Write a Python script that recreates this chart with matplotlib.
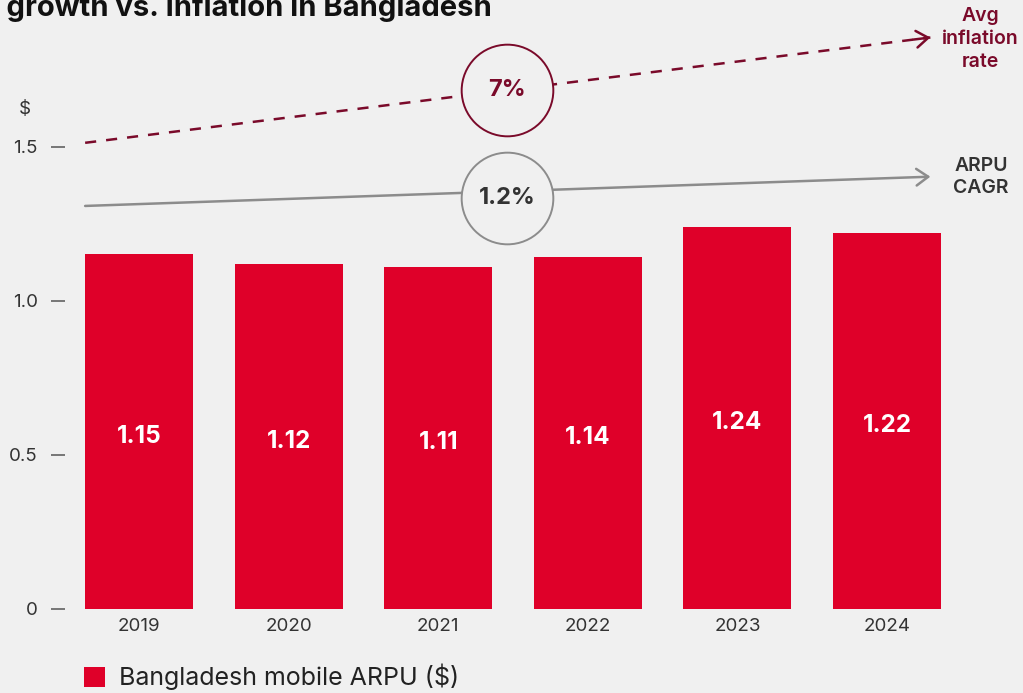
import matplotlib
matplotlib.use("Agg")
import matplotlib.pyplot as plt
from matplotlib.patches import Patch

# ---- data ----
years = ["2019", "2020", "2021", "2022", "2023", "2024"]
arpu = [1.15, 1.12, 1.11, 1.14, 1.24, 1.22]
yticks = [0, 0.5, 1.0, 1.5]
ytick_labels = ["0", "0.5", "1.0", "1.5"]

inflation_label = "7%"
cagr_label = "1.2%"
# trend guides: x in bar-index units, y in $
inflation_guide_x = [-0.36, 5.29]
inflation_guide_y = [1.512, 1.854]
cagr_guide_x = [-0.36, 5.29]
cagr_guide_y = [1.307, 1.402]
badge_x = 2.46
inflation_badge_y = 1.683
cagr_badge_y = 1.333

# ---- style ----
BG = "#f0f0f0"
RED = "#df0029"
WINE = "#7a0a2a"
GREY = "#8c8c8c"
DARK = "#333333"
FONT = ["Inter", "DejaVu Sans"]
HEAD = "->,head_length=0.85,head_width=0.6"

plt.rcParams["font.family"] = FONT
plt.rcParams["lines.scale_dashes"] = False

W, H = 1023, 693
fig = plt.figure(figsize=(W / 100, H / 100), dpi=100, facecolor=BG)

ax_left, ax_right, ax_bottom = 65, 1000, 608.5
ax = fig.add_axes([ax_left / W, (H - ax_bottom) / H, (ax_right - ax_left) / W, ax_bottom / H])
ax.set_facecolor(BG)
px_per_bar = 149.6
first_center = 139
ax.set_xlim((ax_left - first_center) / px_per_bar, (ax_right - first_center) / px_per_bar)
ax.set_ylim(0, ax_bottom / 308.0)

x = list(range(len(years)))
bars = ax.bar(x, arpu, width=0.722, color=RED, zorder=2)
for xi, v in zip(x, arpu):
    ax.annotate(f"{v:.2f}", xy=(xi, v / 2), xytext=(0, -3.6), textcoords="offset points",
                ha="center", va="center", color="white",
                fontsize=17.5, fontweight="bold", zorder=3)

for s in ax.spines.values():
    s.set_visible(False)
ax.set_yticks(yticks, ytick_labels)
ax.set_xticks(x, years)
ax.tick_params(axis="y", length=10, width=1.1, color="#555555", pad=9.5,
               labelsize=13.5, labelcolor=DARK)
ax.tick_params(axis="x", length=0, pad=7, labelsize=13.5, labelcolor=DARK)
ax.text(-0.76, 1.62, "$", ha="center", va="center", fontsize=13.5, color=DARK,
        transform=ax.transData, clip_on=False)

# inflation guide (dashed) with open arrowhead
ax.plot(inflation_guide_x, inflation_guide_y, color=WINE, lw=1.8,
        linestyle=(0, (8, 7.2)), zorder=1, solid_capstyle="butt")
dx = inflation_guide_x[1] - inflation_guide_x[0]
dy = inflation_guide_y[1] - inflation_guide_y[0]
ax.annotate("", xy=(inflation_guide_x[1], inflation_guide_y[1]),
            xytext=(inflation_guide_x[1] - 0.02 * dx, inflation_guide_y[1] - 0.02 * dy),
            arrowprops=dict(arrowstyle=HEAD, color=WINE, lw=1.8, shrinkA=0, shrinkB=0))

# ARPU CAGR guide (solid) with open arrowhead
ax.annotate("", xy=(cagr_guide_x[1], cagr_guide_y[1]),
            xytext=(cagr_guide_x[0], cagr_guide_y[0]),
            arrowprops=dict(arrowstyle=HEAD, color=GREY, lw=1.8, shrinkA=0, shrinkB=0),
            zorder=1)

# badges
ax.scatter([badge_x], [inflation_badge_y], s=66 ** 2, facecolor=BG, edgecolor=WINE,
           linewidth=1.4, zorder=4)
ax.text(badge_x, inflation_badge_y, inflation_label, ha="center", va="center",
        color=WINE, fontsize=17, fontweight="bold", zorder=5)
ax.scatter([badge_x], [cagr_badge_y], s=66 ** 2, facecolor=BG, edgecolor=GREY,
           linewidth=1.4, zorder=4)
ax.text(badge_x, cagr_badge_y, cagr_label, ha="center", va="center",
        color=DARK, fontsize=17, fontweight="bold", zorder=5)

# guide labels
fig.text(980 / W, 1 - 39 / H, "Avg\ninflation\nrate", ha="center", va="center",
         color=WINE, fontsize=14, fontweight="semibold", linespacing=1.33)
fig.text(981 / W, 1 - 177 / H, "ARPU\nCAGR", ha="center", va="center",
         color=DARK, fontsize=14, fontweight="semibold", linespacing=1.33)

# title
fig.text(492 / W, 1 - 16 / H, "Mobile ARPU growth vs. inflation in Bangladesh",
         ha="right", va="baseline", fontsize=21, fontweight="bold", color="#111111")

# legend
fig.legend(handles=[Patch(facecolor=RED, edgecolor="none", label="Bangladesh mobile ARPU ($)")],
           loc="center left", bbox_to_anchor=(84 / W, 1 - 677 / H), frameon=False,
           fontsize=18, handlelength=0.85, handleheight=0.85, handletextpad=0.55,
           borderpad=0, borderaxespad=0, labelcolor="#222222")

fig.savefig("out.png", dpi=100, facecolor=BG)
